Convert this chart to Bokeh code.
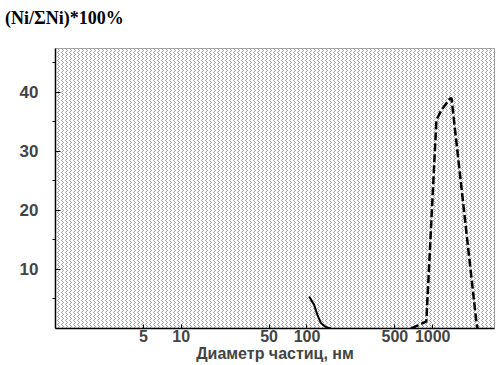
from bokeh.plotting import figure
from bokeh.models import BoxAnnotation, FixedTicker, Range1d, Div
from bokeh.layouts import column
from bokeh.embed import file_html
from bokeh.resources import INLINE

# data
solid_x = [104, 114, 121, 129, 141, 155]
solid_y = [5.4, 4.0, 2.3, 0.95, 0.25, 0.0]

dash_x = [675, 890, 1070, 1174, 1368, 1411, 2235, 2277]
dash_y = [0.0, 1.2, 35.3, 37.0, 38.9, 39.0, 0.7, 0.0]

x_ticks = [5, 10, 50, 100, 500, 1000]
x_tick_labels = ["5", "10", "50", "100", "500", "1000"]
y_ticks = [10, 20, 30, 40]
y_minor = [5, 15, 25, 35, 45]
title_text = "(Ni/ΣNi)*100%"

header = Div(text=title_text, width=496, height=40, margin=(0, 0, 0, 0),
             styles={"font-family": "Liberation Serif", "font-size": "18px",
                     "font-weight": "bold", "line-height": "20px",
                     "padding-top": "8px", "padding-left": "5px", "color": "black"})

p = figure(width=496, height=324, x_axis_type="log",
           x_range=Range1d(1, 3100), y_range=Range1d(0, 47.4),
           output_backend="svg", toolbar_location=None,
           min_border_left=55, min_border_right=2, min_border_top=8, min_border_bottom=30)

# textured background
p.add_layout(BoxAnnotation(fill_color="white", fill_alpha=1.0, line_color=None,
                           hatch_pattern="vertical_wave", hatch_color="black",
                           hatch_alpha=0.5, hatch_scale=4, hatch_weight=0.8, level="underlay"))

p.line(solid_x, solid_y, line_color="black", line_width=2)
p.line(dash_x, dash_y, line_color="black", line_width=2.5, line_dash="8 3")

p.xgrid.ticker = FixedTicker(ticks=[50, 1000])
p.ygrid.ticker = FixedTicker(ticks=y_ticks)
for g in (p.xgrid, p.ygrid):
    g.grid_line_color = "black"
    g.grid_line_dash = "6 4"
    g.grid_line_alpha = 0.6
    g.grid_line_width = 1

p.outline_line_color = "#888888"
p.background_fill_color = "white"
p.border_fill_color = "white"

xa = p.xaxis[0]
xa.ticker = FixedTicker(ticks=x_ticks)
xa.major_label_overrides = {v: s for v, s in zip(x_ticks, x_tick_labels)}
xa.axis_label = "Диаметр частиц, нм"
xa.axis_label_text_font = "Liberation Sans"
xa.axis_label_text_font_style = "bold"
xa.axis_label_text_font_size = "16px"
xa.axis_label_standoff = 0
xa.major_label_text_font = "Liberation Sans"
xa.major_label_text_font_style = "bold"
xa.major_label_text_font_size = "16px"
xa.major_label_standoff = 1
xa.major_tick_in = 4
xa.major_tick_out = 0
xa.minor_tick_in = 0
xa.minor_tick_out = 0
xa.axis_line_color = "black"
xa.axis_line_width = 1.5

ya = p.yaxis[0]
ya.ticker = FixedTicker(ticks=y_ticks, minor_ticks=y_minor)
ya.major_label_text_font = "Liberation Sans"
ya.major_label_text_font_style = "bold"
ya.major_label_text_font_size = "17px"
ya.major_label_standoff = 14
ya.major_tick_in = 5
ya.major_tick_out = 0
ya.minor_tick_in = 0
ya.minor_tick_out = 3
ya.axis_line_color = "black"
ya.axis_line_width = 1.5

layout = column(header, p, spacing=0)
open("out.html", "w").write(file_html(layout, INLINE))
